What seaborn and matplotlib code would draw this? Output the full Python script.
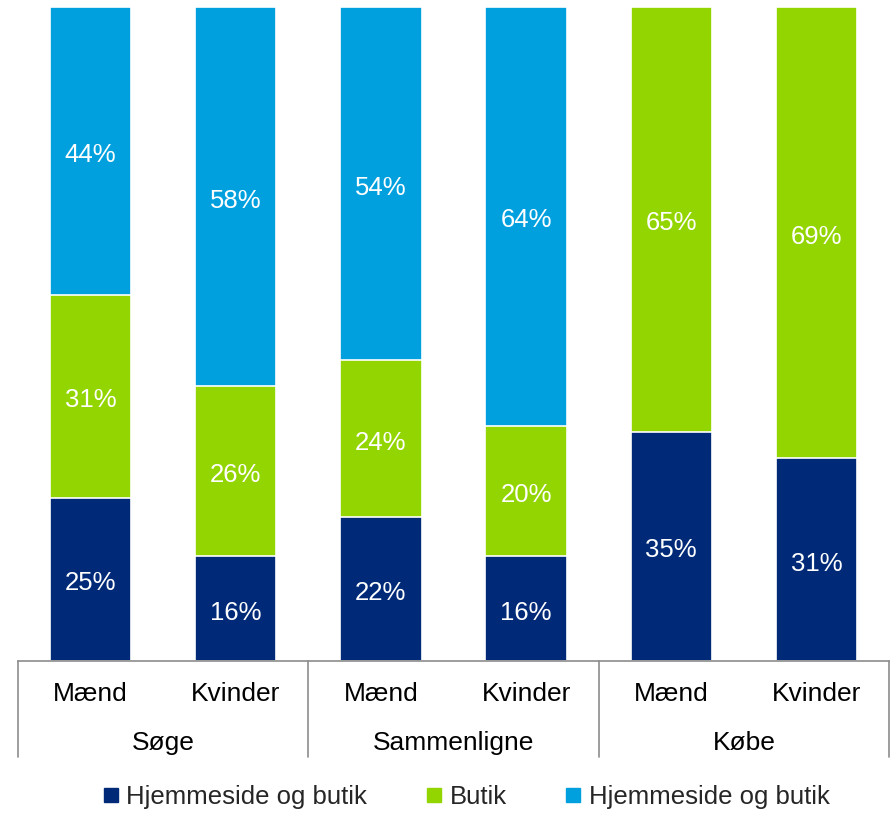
import matplotlib
matplotlib.use("Agg")
import matplotlib.pyplot as plt
from matplotlib.lines import Line2D
import numpy as np
import pandas as pd
import seaborn as sns

# Data: share of respondents per activity and gender (%)
activities = ["Søge", "Sammenligne", "Købe"]
genders = ["Mænd", "Kvinder"]
series_names = ["Hjemmeside og butik", "Butik", "Hjemmeside og butik"]
navy_vals = [25, 16, 22, 16, 35, 31]
green_vals = [31, 26, 24, 20, 65, 69]
blue_vals = [44, 58, 54, 64, 0, 0]

colors = ["#002A77", "#93D500", "#00A0DF"]

sns.set_theme(style="white")
plt.rcParams["font.family"] = ["Liberation Sans", "DejaVu Sans"]

keys = [f"{a}|{g}" for a in activities for g in genders]
layers = [np.array(navy_vals), np.array(green_vals), np.array(blue_vals)]
cum = np.cumsum(layers, axis=0)

fig = plt.figure(figsize=(8.91, 8.13), dpi=100)
ax = fig.add_axes([18 / 891, (813 - 661) / 813, (889 - 18) / 891, (661 - 7) / 813])

# Stack by drawing cumulative tops from the tallest layer down
for i in reversed(range(3)):
    df = pd.DataFrame({"key": keys, "top": cum[i]})
    sns.barplot(data=df, x="key", y="top", order=keys, color=colors[i],
                saturation=1, width=0.56, edgecolor="white", linewidth=1.2,
                ax=ax, zorder=2)

# Segment value labels
for j in range(len(keys)):
    base = 0
    for i in range(3):
        v = layers[i][j]
        if v > 0:
            ax.text(j, base + v / 2 - 0.6, f"{v}%", ha="center", va="center",
                    color="white", fontsize=18.5, zorder=5)
        base += v

ax.set_xlim(-0.5, len(keys) - 0.5)
ax.set_ylim(0, 100)
ax.set_xlabel("")
ax.set_ylabel("")
ax.set_xticks([])
ax.set_yticks([])
for s in ["top", "left", "right"]:
    ax.spines[s].set_visible(False)
ax.spines["bottom"].set_color("#8c8c8c")
ax.spines["bottom"].set_linewidth(1.2)

# Two-level category axis
trans = ax.get_xaxis_transform()
for j, k in enumerate(keys):
    ax.text(j, -0.050, k.split("|")[1], ha="center", va="center",
            fontsize=19, color="black", transform=trans, clip_on=False)
for g, act in enumerate(activities):
    ax.text(2 * g + 0.5, -0.126, act, ha="center", va="center",
            fontsize=19, color="black", transform=trans, clip_on=False)
for xb in [-0.5, 1.5, 3.5, 5.5]:
    ax.plot([xb, xb], [0, -0.147], color="#8c8c8c", lw=1.2,
            transform=trans, clip_on=False)

# Legend
handles = [Line2D([0], [0], marker="s", linestyle="", markersize=10,
                  markerfacecolor=c, markeredgecolor=c) for c in colors]
fig.legend(handles, series_names, loc="center", bbox_to_anchor=(0.522, 0.0197),
           ncol=3, frameon=False, fontsize=18.5, handletextpad=0.2,
           columnspacing=2.2, handlelength=0.8)

fig.savefig("out.png", dpi=100)
